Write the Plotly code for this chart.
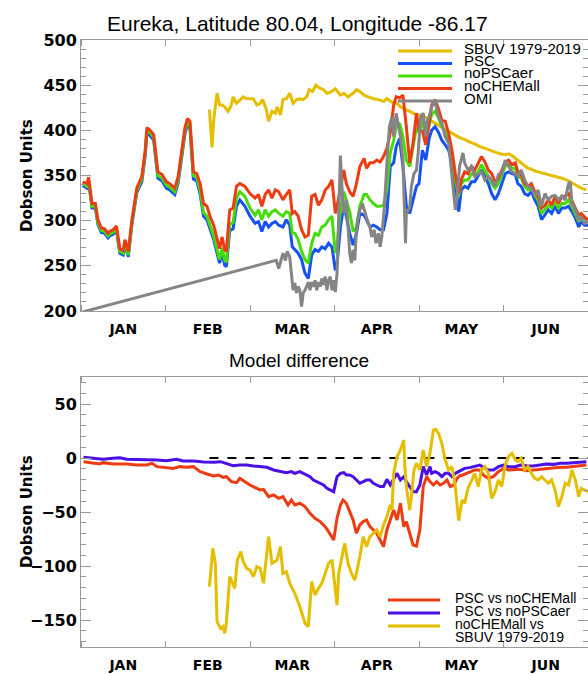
import plotly.graph_objects as go

# ---------------- data (x in months since Jan 1; 0..6) ----------------
MONTHS = ["JAN", "FEB", "MAR", "APR", "MAY", "JUN"]

MODEL_X = [0.02, 0.07, 0.09, 0.13, 0.17, 0.20, 0.24, 0.28, 0.32, 0.34, 0.38, 0.42, 0.46, 0.50, 0.52, 0.56,
           0.60, 0.66, 0.72, 0.76, 0.78, 0.82, 0.86, 0.91, 0.96, 1.01, 1.05, 1.11, 1.15, 1.19, 1.23, 1.26,
           1.29, 1.33, 1.37, 1.41, 1.45, 1.49, 1.53, 1.57, 1.61, 1.64, 1.67, 1.70, 1.72, 1.76, 1.80, 1.84,
           1.88, 1.94, 2.00, 2.06, 2.10, 2.14, 2.18, 2.22, 2.26, 2.30, 2.34, 2.39, 2.43, 2.47, 2.50, 2.53,
           2.57, 2.61, 2.65, 2.69, 2.73, 2.77, 2.81, 2.85, 2.89, 2.93, 2.97, 3.01, 3.03, 3.07, 3.11, 3.14,
           3.18, 3.22, 3.26, 3.30, 3.35, 3.38, 3.42, 3.46, 3.50, 3.54, 3.58, 3.62, 3.66, 3.70, 3.73, 3.77,
           3.81, 3.85, 3.89, 3.93, 3.97, 4.00, 4.04, 4.08, 4.12,
           4.15, 4.19, 4.23, 4.27, 4.31, 4.35, 4.39, 4.43, 4.47, 4.50, 4.54, 4.58, 4.62, 4.66, 4.70, 4.74,
           4.78, 4.82, 4.86, 4.90, 4.94, 4.98, 5.02, 5.06, 5.10, 5.14, 5.17, 5.21, 5.25, 5.29, 5.33, 5.37,
           5.41, 5.45, 5.49, 5.53, 5.57, 5.61, 5.65, 5.69, 5.73, 5.77, 5.81, 5.85, 5.89, 5.92, 5.96, 6.00]

NOCHEMALL = [343, 341, 348, 319, 319, 301, 292, 291, 286, 288, 290, 294, 269, 267, 279, 266,
             299, 336, 349, 378, 403, 400, 395, 354, 351, 343, 341, 336, 349, 375, 403, 413,
             410, 354, 352, 341, 319, 316, 304, 295, 279, 269, 282, 268, 266, 312, 314, 338,
             341, 338, 330, 325, 329, 316, 329, 334, 325, 334, 332, 323, 329, 334, 308, 310,
             305, 290, 282, 284, 327, 329, 317, 323, 334, 338, 345, 308, 316, 338, 356, 341,
             332, 327, 341, 360, 369, 358, 364, 364, 367, 365, 371, 380, 397, 428, 437, 436,
             439, 404, 364, 386, 419, 400, 399, 384, 412,
             428, 434, 424, 411, 410, 397, 378, 352, 330, 345, 354, 352, 360, 356, 364, 371,
             365, 356, 352, 343, 347, 356, 365, 367, 362, 364, 354, 351, 341, 338, 341, 332,
             327, 314, 317, 323, 317, 327, 319, 327, 327, 330, 321, 314, 306, 308, 304, 301]

NOPSCAER = [341, 338, 345, 316, 316, 298, 289, 288, 283, 285, 287, 291, 266, 264, 276, 262,
            296, 333, 346, 375, 400, 397, 392, 350, 347, 339, 337, 332, 345, 371, 399, 409,
            406, 350, 348, 333, 309, 305, 293, 283, 268, 257, 270, 256, 254, 296, 298, 325,
            332, 327, 314, 306, 312, 301, 312, 305, 310, 312, 308, 305, 310, 308, 286, 286,
            279, 266, 257, 253, 275, 286, 284, 293, 295, 301, 305, 264, 271, 312, 332, 323,
            310, 288, 293, 316, 329, 329, 323, 319, 316, 316, 317, 334, 375, 389, 404, 408,
            393, 367, 360, 382, 404, 397, 412, 389, 404,
            418, 421, 414, 404, 398, 389, 375, 345, 327, 341, 345, 345, 352, 351, 354, 362,
            356, 349, 341, 336, 341, 351, 360, 362, 358, 358, 349, 347, 338, 334, 336, 328,
            323, 308, 312, 317, 314, 321, 314, 319, 319, 323, 316, 308, 299, 304, 301, 299]

PSC = [339, 336, 343, 314, 314, 296, 287, 286, 281, 283, 285, 289, 264, 262, 274, 260,
       294, 331, 343, 372, 397, 394, 389, 347, 344, 336, 334, 329, 342, 368, 396, 406,
       402, 346, 344, 329, 305, 301, 289, 279, 264, 253, 265, 251, 249, 289, 291, 316,
       323, 316, 305, 297, 299, 288, 299, 293, 297, 299, 295, 293, 301, 295, 271, 268,
       264, 257, 242, 236, 262, 268, 266, 271, 269, 275, 271, 245, 251, 293, 317, 305,
       286, 273, 286, 308, 306, 301, 293, 295, 293, 290, 290, 308, 360, 364, 382, 391,
       360, 316, 308, 323, 338, 341, 378, 367, 391,
       400, 404, 398, 389, 384, 378, 364, 338, 310, 334, 338, 336, 343, 343, 349, 356,
       349, 341, 330, 323, 330, 341, 352, 354, 352, 351, 341, 338, 330, 328, 332, 323,
       316, 301, 306, 312, 308, 316, 308, 314, 314, 316, 310, 303, 293, 299, 295, 295]

SBUV_X = [1.52, 1.55, 1.57, 1.61, 1.64, 1.67, 1.70, 1.74, 1.78, 1.80, 1.84, 1.88, 1.92, 1.96, 2.00, 2.04,
          2.08, 2.12, 2.15, 2.19, 2.22, 2.26, 2.30, 2.32, 2.36, 2.39, 2.43, 2.47, 2.51, 2.55, 2.59, 2.63,
          2.67, 2.70, 2.74, 2.78, 2.82, 2.87, 2.91, 2.95, 3.01, 3.07, 3.11, 3.16, 3.22, 3.26, 3.30, 3.35,
          3.40, 3.46, 3.52, 3.58, 3.62, 3.66, 3.70, 3.74, 3.78, 3.82, 3.85, 3.89, 3.93, 3.97, 4.01, 4.05,
          4.09, 4.13, 4.19, 4.25, 4.31, 4.37, 4.43, 4.48, 4.54, 4.60, 4.66, 4.72, 4.78, 4.84, 4.90, 4.96,
          5.02, 5.06, 5.10, 5.14, 5.18, 5.22, 5.25, 5.29, 5.33, 5.37, 5.41, 5.45, 5.51, 5.57, 5.63, 5.69,
          5.75, 5.81, 5.87, 5.92, 5.98]
SBUV = [423, 381, 411, 441, 428, 428, 426, 421, 428, 437, 430, 434, 437, 435, 435, 435,
        428, 430, 434, 424, 410, 421, 419, 426, 417, 434, 435, 441, 430, 434, 435, 434,
        437, 445, 443, 450, 447, 445, 441, 442, 446, 439, 441, 437, 441, 445, 443, 439,
        437, 435, 434, 432, 435, 432, 430, 430, 426, 424, 423, 421, 419, 417, 417, 415,
        414, 411, 408, 404, 401, 398, 395, 392, 390, 387, 385, 382, 380, 378, 376, 374,
        373, 374, 372, 369, 366, 364, 361, 358, 357, 355, 354, 353, 352, 350, 349, 347,
        345, 342, 339, 336, 334]

OMI_X = [0.02, 2.31, 2.34, 2.36, 2.39, 2.42, 2.44, 2.47, 2.49, 2.51, 2.53, 2.55, 2.57, 2.59, 2.61, 2.63,
         2.65, 2.67, 2.69, 2.71, 2.73, 2.75, 2.77, 2.79, 2.81, 2.83, 2.85, 2.87, 2.89, 2.91, 2.93, 2.95,
         2.97, 2.99, 3.01, 3.03, 3.05, 3.07, 3.09, 3.11, 3.14, 3.16, 3.18, 3.20, 3.22, 3.24, 3.26, 3.28,
         3.30, 3.33, 3.35, 3.37, 3.40, 3.42, 3.44, 3.47, 3.49, 3.52, 3.54, 3.56, 3.59, 3.62, 3.65, 3.68,
         3.70, 3.73, 3.76, 3.78, 3.81, 3.84, 3.85, 3.89, 3.91, 3.94, 3.97, 3.99, 4.02, 4.05, 4.08, 4.10,
         4.12, 4.15, 4.19, 4.23, 4.27, 4.31, 4.35, 4.39, 4.43, 4.45, 4.48, 4.52, 4.54, 4.58, 4.62, 4.66,
         4.70, 4.74, 4.78, 4.82, 4.86, 4.90, 4.94, 4.98, 5.02, 5.06, 5.10, 5.14, 5.17, 5.21, 5.25, 5.29,
         5.33, 5.37, 5.41, 5.45, 5.49, 5.53, 5.57, 5.61, 5.65, 5.69, 5.73, 5.77, 5.79, 5.81, 5.85, 5.89,
         5.92, 5.96, 6.00]
OMI = [199, 256, 247, 253, 264, 256, 266, 260, 242, 223, 231, 220, 227, 223, 205, 220,
       223, 227, 232, 223, 232, 227, 234, 223, 232, 227, 236, 229, 238, 223, 234, 238,
       223, 234, 221, 242, 319, 372, 334, 308, 323, 293, 264, 253, 268, 256, 290, 304,
       312, 319, 312, 308, 297, 293, 282, 290, 275, 286, 271, 282, 315, 363, 404, 415,
       393, 419, 404, 393, 367, 275, 308, 315, 338, 352, 356, 375, 415, 419, 393, 411,
       415, 426, 432, 415, 408, 393, 386, 352, 312, 327, 360, 375, 364, 356, 360, 349,
       352, 354, 345, 349, 345, 338, 351, 352, 367, 360, 354, 352, 349, 356, 345, 338,
       336, 328, 334, 316, 330, 323, 327, 328, 323, 327, 323, 341, 343, 319, 312, 301,
       304, 297, 299]

# ---- model differences (bottom panel) ----
D1_X = [0.03, 0.15, 0.22, 0.26, 0.38, 0.54, 0.66, 0.78, 0.84, 0.90, 1.01, 1.09, 1.17, 1.25, 1.33, 1.41,
        1.49, 1.57, 1.63, 1.68, 1.72, 1.78, 1.84,
        1.88, 1.94, 2.00, 2.08, 2.12, 2.16, 2.22, 2.28, 2.34, 2.39, 2.45, 2.49, 2.53, 2.59, 2.65, 2.71,
        2.77, 2.83, 2.89, 2.93, 2.99, 3.03, 3.07, 3.10, 3.14, 3.18, 3.22, 3.26, 3.30, 3.34, 3.38, 3.42,
        3.46, 3.50, 3.54, 3.58, 3.62, 3.66, 3.70, 3.74, 3.78, 3.82, 3.85, 3.89, 3.93, 3.97, 4.01, 4.05,
        4.09, 4.13,
        4.17, 4.21, 4.25, 4.29, 4.33, 4.37, 4.41, 4.45, 4.48, 4.52, 4.56, 4.60, 4.66, 4.72, 4.76, 4.82,
        4.88, 4.94, 5.00, 5.06, 5.14, 5.20, 5.27, 5.35, 5.43, 5.51, 5.59, 5.67, 5.75, 5.83, 5.91, 5.98]
PSC_VS_NOCHEMALL = [-3.4, -4.9, -5.5, -4.3, -5.5, -5.5, -6.5, -6.5, -4.9, -8.0, -8.6, -9.6, -8.0, -8.6, -8.0, -12.6,
                    -14.8, -16.6, -15.7, -17.9, -17.3, -21.9, -22.8,
                    -18.8, -21.9, -25.0, -28.1, -29.6, -29.0, -35.8, -34.2, -37.3, -35.8, -43.5, -38.9, -43.5, -41.9, -45.0, -51.2,
                    -55.9, -58.9, -63.6, -68.2, -75.9, -55.9, -43.5, -38.9, -41.9, -49.7, -57.4, -69.7, -62.0, -58.9, -57.4, -63.6,
                    -66.6, -69.7, -75.9, -82.1, -66.6, -57.4, -48.1, -57.4, -41.9, -63.6, -58.9, -69.7, -80.5, -81.5, -66.6, -26.5,
                    -17.3, -21.9,
                    -25.0, -21.9, -25.0, -23.4, -20.4, -26.5, -25.0, -18.8, -16.6, -15.7, -14.2, -12.6, -11.1, -11.1, -15.7, -18.8,
                    -17.3, -12.6, -9.6, -11.1, -11.1, -10.5, -11.7, -11.1, -10.5, -9.6, -9.6, -8.6, -8.6, -8.0, -7.4, -6.5]

D2_X = [0.03, 0.15, 0.26, 0.38, 0.46, 0.54, 0.66, 0.78, 0.90, 1.01, 1.13, 1.21, 1.33, 1.45, 1.57, 1.65,
        1.72, 1.80,
        1.88, 1.96, 2.04, 2.12, 2.20, 2.28, 2.36, 2.43, 2.49, 2.53, 2.59, 2.63, 2.67, 2.71, 2.75, 2.79,
        2.83, 2.87, 2.91, 2.95, 2.99, 3.03, 3.07, 3.11, 3.14, 3.18, 3.22, 3.26, 3.30, 3.34, 3.38, 3.42,
        3.46, 3.50, 3.54, 3.58, 3.62, 3.66, 3.70, 3.74, 3.78, 3.82, 3.85, 3.89, 3.93, 3.97, 4.01, 4.05,
        4.09, 4.13,
        4.15, 4.19, 4.23, 4.27, 4.31, 4.35, 4.39, 4.43, 4.47, 4.51, 4.54, 4.60, 4.66, 4.72, 4.76, 4.82,
        4.88, 4.94, 5.00, 5.06, 5.14, 5.20, 5.27, 5.35, 5.43, 5.51, 5.59, 5.67, 5.75, 5.83, 5.91, 5.98]
PSC_VS_NOPSCAER = [0.6, -0.3, -1.2, -0.3, 0.3, -1.2, -1.2, -1.8, -1.8, -2.5, -1.2, -2.8, -2.8, -3.7, -4.0, -3.4,
                   -4.9, -7.1,
                   -6.5, -6.5, -7.4, -8.0, -8.6, -11.1, -12.6, -13.6, -12.6, -14.2, -12.6, -14.2, -15.7, -17.3, -20.4, -21.9,
                   -23.4, -25.0, -28.1, -29.6, -31.2, -17.3, -14.2, -13.6, -15.7, -15.7, -17.3, -20.4, -23.4, -21.9, -20.4, -20.4,
                   -23.4, -25.0, -26.5, -26.5, -19.7, -25.0, -19.7, -14.2, -20.4, -17.3, -21.9, -26.5, -31.2, -31.2, -25.0, -8.0,
                   -15.7, -8.0,
                   -14.2, -12.6, -14.2, -17.3, -14.2, -14.2, -17.3, -14.2, -12.6, -10.5, -9.6, -8.9, -7.4, -6.5, -8.6, -11.1,
                   -11.1, -8.0, -6.5, -8.0, -8.0, -6.5, -7.1, -7.4, -6.5, -5.5, -5.9, -4.9, -4.9, -4.3, -4.3, -3.4]

D3_X = [1.52, 1.56, 1.59, 1.61, 1.65, 1.68, 1.70, 1.72, 1.76, 1.78, 1.82, 1.85, 1.89,
        1.92, 1.96, 2.00, 2.04, 2.08, 2.12, 2.16, 2.22, 2.26, 2.32, 2.36, 2.39, 2.43, 2.47, 2.53, 2.59,
        2.65, 2.69, 2.73, 2.77, 2.81, 2.85, 2.89, 2.93, 2.97, 3.01, 3.03, 3.05, 3.09, 3.12, 3.16, 3.20,
        3.24, 3.26, 3.30, 3.34, 3.38, 3.42, 3.46, 3.50, 3.54, 3.58, 3.62, 3.66, 3.68, 3.70, 3.74, 3.78,
        3.82, 3.83, 3.85, 3.89, 3.91, 3.94, 3.97, 4.01, 4.05, 4.09, 4.13,
        4.17, 4.20, 4.23, 4.27, 4.31, 4.35, 4.39, 4.43, 4.47, 4.51, 4.54, 4.58, 4.62, 4.66, 4.70, 4.74,
        4.78, 4.82, 4.86, 4.90, 4.94, 4.98, 5.02, 5.06, 5.10, 5.14, 5.17, 5.21, 5.25, 5.29, 5.33, 5.37,
        5.41, 5.45, 5.49, 5.53, 5.57, 5.61, 5.65, 5.69, 5.73, 5.77, 5.81, 5.85, 5.89, 5.92, 5.96, 6.00]
NOCHEMALL_VS_SBUV = [-119.1, -83.6, -97.5, -151.5, -157.7, -156.1, -162.3, -153.0, -109.9, -113.0, -120.7, -94.4, -86.7,
                     -96.0, -102.1, -103.7, -109.9, -100.6, -102.1, -116.0, -72.8, -97.5, -94.4, -82.1, -106.8, -105.2, -116.0, -125.3, -137.6,
                     -153.0, -156.1, -114.5, -126.8, -120.7, -116.0, -106.8, -97.5, -94.4, -119.1, -136.1, -106.8, -91.3, -79.0, -97.5, -106.8,
                     -113.0, -106.8, -91.3, -72.8, -82.1, -72.8, -69.7, -66.6, -72.8, -62.0, -54.3, -43.5, -48.1, -14.2, 1.2, 7.4,
                     16.7, -4.9, -26.5, -48.1, -35.8, -11.1, -4.9, -11.1, 7.4, -8.0, 4.3,
                     25.9, 26.5, 22.8, 13.6, -1.8, -11.1, -8.0, -26.5, -58.0, -38.9, -42.0, -28.1, -21.9, -14.2, -26.5, -11.1,
                     -8.0, -14.2, -37.3, -31.2, -20.4, -26.5, -6.5, 1.2, 4.3, -1.8, -3.4, -0.3, -11.1, -8.0, -14.2, -18.8,
                     -20.4, -17.3, -20.4, -23.4, -20.4, -29.6, -45.0, -35.8, -23.4, -25.0, -11.1, -20.4, -35.8, -28.1, -29.6, -31.2]

ZERO_X = [1.52, 6.0]
ZERO_Y = [0, 0]

TOP_TICKS = [200, 250, 300, 350, 400, 450, 500]
BOT_TICKS = [-150, -100, -50, 0, 50]

# ---------------- styling / layout ----------------
C_SBUV = "#E6BE00"
C_PSC = "#1452F5"
C_NOPSC = "#46DC0A"
C_NOCHEM = "#EE3C12"
C_OMI = "#858585"
C_VIOLET = "#4A10E6"
AXIS = "#9a9a9a"
LW = 3

W, H = 588, 674
ML, MR, MT, MB = 81, 0, 40, 27
PW, PH = W - ML - MR, H - MT - MB


def fx(xp):
    return (xp - ML) / PW


def fy(yp):
    return (H - MB - yp) / PH


fig = go.Figure()


def line(x, y, color, ax, dash=None, width=LW):
    fig.add_trace(go.Scatter(x=x, y=y, mode="lines", xaxis=ax[0], yaxis=ax[1], showlegend=False,
                             line=dict(color=color, width=width, dash=dash), hoverinfo="skip"))


line(SBUV_X, SBUV, C_SBUV, ("x", "y"))
line(MODEL_X, PSC, C_PSC, ("x", "y"))
line(MODEL_X, NOPSCAER, C_NOPSC, ("x", "y"))
line(MODEL_X, NOCHEMALL, C_NOCHEM, ("x", "y"))
line(OMI_X, OMI, C_OMI, ("x", "y"))

line(ZERO_X, ZERO_Y, "black", ("x2", "y2"), dash="dash", width=2)
line(D1_X, PSC_VS_NOCHEMALL, C_NOCHEM, ("x2", "y2"))
line(D2_X, PSC_VS_NOPSCAER, C_VIOLET, ("x2", "y2"))
line(D3_X, NOCHEMALL_VS_SBUV, C_SBUV, ("x2", "y2"))


def xcfg(anchor):
    return dict(domain=[0, 1], anchor=anchor, range=[0, 6], tickmode="array",
                tickvals=[i + 0.5 for i in range(len(MONTHS))], ticktext=MONTHS,
                ticks="outside", ticklen=5, tickcolor="rgba(0,0,0,0)",
                tickfont=dict(family="DejaVu Sans", size=14, color="black", weight="bold"),
                showline=True, linecolor=AXIS, linewidth=1, mirror="ticks",
                showgrid=False, zeroline=False,
                minor=dict(tickmode="linear", tick0=0, dtick=1, ticks="inside", ticklen=6,
                           tickcolor=AXIS, tickwidth=1, showgrid=False))


def ycfg(anchor, domain, rng, vals):
    return dict(domain=domain, anchor=anchor, range=rng, tickmode="array", tickvals=vals,
                ticks="inside", ticklen=10, tickcolor=AXIS, tickwidth=1,
                tickfont=dict(family="DejaVu Sans", size=16, color="black", weight="bold"),
                showline=True, linecolor=AXIS, linewidth=1, mirror="ticks",
                showgrid=False, zeroline=False,
                minor=dict(tickmode="linear", tick0=0, dtick=10, ticks="inside", ticklen=5,
                           tickcolor=AXIS, tickwidth=1, showgrid=False))


annotations = []
shapes = []


def text(s, xp, yp, size, xanchor="left", bold=False, family="Liberation Sans", angle=0):
    annotations.append(dict(text=s, x=fx(xp), y=fy(yp), xref="paper", yref="paper",
                            xanchor=xanchor, yanchor="middle", showarrow=False, textangle=angle,
                            font=dict(family=family, size=size, color="black",
                                      weight="bold" if bold else "normal")))


text("Eureka, Latitude 80.04, Longitude -86.17", 297, 23, 21, xanchor="center")
text("Model difference", 299, 360, 19, xanchor="center")
text("Dobson Units", 27, 176, 15, xanchor="center", bold=True, family="DejaVu Sans", angle=-90)
text("Dobson Units", 27, 512, 15, xanchor="center", bold=True, family="DejaVu Sans", angle=-90)

top_leg = [("SBUV 1979-2019", C_SBUV), ("PSC", C_PSC), ("noPSCaer", C_NOPSC),
           ("noCHEMall", C_NOCHEM), ("OMI", C_OMI)]
for i, (lab, col) in enumerate(top_leg):
    yl = 51 + 12.5 * i
    shapes.append(dict(type="line", xref="paper", yref="paper", x0=fx(398), x1=fx(452),
                       y0=fy(yl), y1=fy(yl), line=dict(color=col, width=LW)))
    text(lab, 462, yl - 3, 15)

bot_leg = [("PSC vs noCHEMall", C_NOCHEM), ("PSC vs noPSCaer", C_VIOLET), ("noCHEMall vs", C_SBUV)]
for i, (lab, col) in enumerate(bot_leg):
    yl = 600 + 13 * i
    shapes.append(dict(type="line", xref="paper", yref="paper", x0=fx(388), x1=fx(440),
                       y0=fy(yl), y1=fy(yl), line=dict(color=col, width=LW)))
    text(lab, 453, yl - 2, 14)
text("SBUV 1979-2019", 453, 637, 14)

fig.update_layout(
    width=W, height=H, margin=dict(l=ML, r=MR, t=MT, b=MB),
    paper_bgcolor="white", plot_bgcolor="white", showlegend=False,
    xaxis=xcfg("y"), yaxis=ycfg("x", [fy(311), 1], [200, 500], TOP_TICKS),
    xaxis2=xcfg("y2"), yaxis2=ycfg("x2", [0, fy(377)], [-175, 75], BOT_TICKS),
    annotations=annotations, shapes=shapes,
)

fig.write_html("out.html", config={"displayModeBar": False},
               post_script="document.body.style.margin='0';document.body.style.overflow='hidden';")
